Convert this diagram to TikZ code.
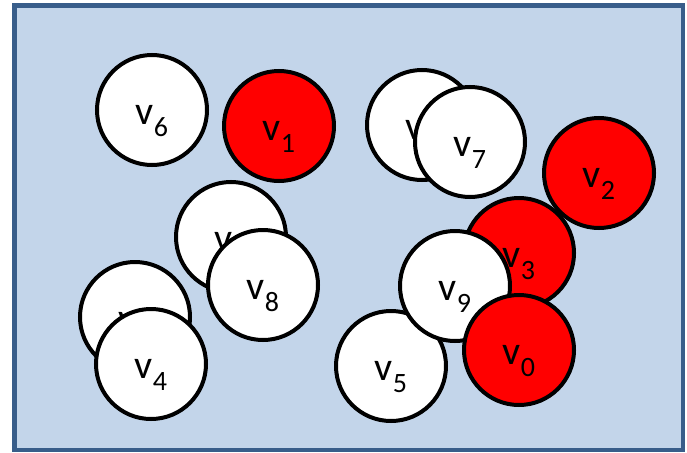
\documentclass[tikz,border=0pt]{standalone}
\usepackage{tikz}
\usepackage{fontspec}
\setmainfont{Carlito}
\definecolor{panelfill}{HTML}{C3D5EA}
\definecolor{paneldraw}{HTML}{385D8A}
\definecolor{vertred}{HTML}{FF0000}
\newcommand{\vname}[1]{v\raisebox{-12pt}{\fontsize{28}{28}\selectfont #1}}
\tikzset{
  vert/.style={circle, draw=black, line width=4pt, fill=white,
               minimum size=110pt, inner sep=0pt, text height=28pt, text depth=0pt,
               font=\fontsize{40}{44}\selectfont},
  redvert/.style={vert, fill=vertred},
  panel/.style={draw=paneldraw, fill=panelfill, line width=4.5pt},
}

\begin{document}
\begin{tikzpicture}[x=1pt, y=-1pt]
    \useasboundingbox (0,0) rectangle (687,452);
    \draw[panel] (14.5,5.5) rectangle (683,450);
    % vertices lying underneath
    \node[vert] (h7) at (422,125) {\vname{\phantom{0}}};
    \node[vert] (h8) at (231,237) {\vname{\phantom{0}}};
    \node[vert] (h4) at (135,317) {\vname{\phantom{0}}};
    % visible vertices
    \node[vert] (v6) at (152,110) {\vname{6}};
    \node[redvert] (v1) at (279,126) {\vname{1}};
    \node[vert] (v7) at (470,142) {\vname{7}};
    \node[redvert] (v2) at (599,173) {\vname{2}};
    \node[vert] (v8) at (263,285) {\vname{8}};
    \node[redvert] (v3) at (519,253) {\vname{3}};
    \node[vert] (v5) at (391,366) {\vname{5}};
    \node[vert] (v4) at (151,364) {\vname{4}};
    \node[vert] (v9) at (455,286) {\vname{9}};
    \node[redvert] (v0) at (519,350) {\vname{0}};
  \end{tikzpicture}
\end{document}
